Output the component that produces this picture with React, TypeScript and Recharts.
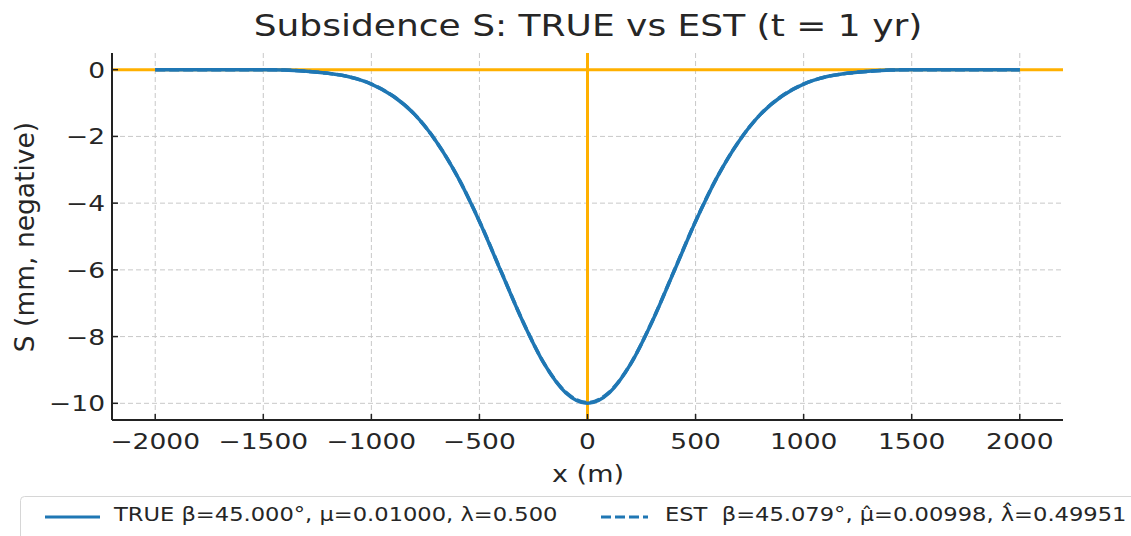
import React from "react";
import {
  LineChart,
  Line,
  XAxis,
  YAxis,
  CartesianGrid,
  ReferenceLine,
} from "recharts";

// horizontal distance from the centre of the trough (m)
const xPositions = [
  -2000, -1900, -1800, -1700, -1600, -1500, -1400, -1300, -1200, -1100, -1000,
  -900, -800, -700, -600, -500, -400, -300, -200, -100, 0, 100, 200, 300, 400,
  500, 600, 700, 800, 900, 1000, 1100, 1200, 1300, 1400, 1500, 1600, 1700,
  1800, 1900, 2000,
];

// true subsidence (mm)
const sTrue = [
  0, 0, 0, 0, 0, 0, -0.01, -0.05, -0.11, -0.22, -0.43, -0.79, -1.34, -2.15,
  -3.22, -4.55, -6.05, -7.54, -8.82, -9.69, -10.0, -9.69, -8.82, -7.54, -6.05,
  -4.55, -3.22, -2.15, -1.34, -0.79, -0.43, -0.22, -0.11, -0.05, -0.01, 0, 0,
  0, 0, 0, 0,
];

// estimated subsidence (mm)
const sEst = [
  0, 0, 0, 0, 0, 0, -0.01, -0.05, -0.11, -0.22, -0.43, -0.79, -1.34, -2.15,
  -3.22, -4.54, -6.04, -7.53, -8.81, -9.67, -9.98, -9.67, -8.81, -7.53, -6.04,
  -4.54, -3.22, -2.15, -1.34, -0.79, -0.43, -0.22, -0.11, -0.05, -0.01, 0, 0,
  0, 0, 0, 0,
];

const xTicks = [-2000, -1500, -1000, -500, 0, 500, 1000, 1500, 2000];
const yTicks = [0, -2, -4, -6, -8, -10];

const titleText = "Subsidence S: TRUE vs EST (t = 1 yr)";
const trueLabel = "TRUE \u03B2=45.000\u00B0, \u03BC=0.01000, \u03BB=0.500";
const estLabel =
  "EST  \u03B2=45.079\u00B0, \u03BC\u0302=0.00998, \u03BB\u0302=0.49951";

const data = xPositions.map((x, i) => ({ x, trueS: sTrue[i], estS: sEst[i] }));

const FONT = "'DejaVu Sans', sans-serif";
const TEXT = "#262626";
const BLUE = "#1f77b4";
const ORANGE = "#ffb000";
const SQUASH = 0.83;

const PLOT_LEFT = 112;
const PLOT_BOTTOM = 420;

const minus = (v: number) => String(v).replace("-", "\u2212");

// horizontal text, slightly flattened
const Flat = ({ x, y, size, anchor = "middle", children }: any) => (
  <text
    transform={`translate(${x},${y}) scale(1,${SQUASH})`}
    textAnchor={anchor}
    fontSize={size}
    fontFamily={FONT}
    fill={TEXT}
    style={{ whiteSpace: "pre" }}
  >
    {children}
  </text>
);

const XTick = (props: any) => {
  const { x, payload } = props;
  return (
    <g>
      <line x1={x} x2={x} y1={PLOT_BOTTOM} y2={PLOT_BOTTOM - 6} stroke="#222" strokeWidth={1.5} />
      <Flat x={x} y={PLOT_BOTTOM + 29} size={26.5}>
        {minus(payload.value)}
      </Flat>
    </g>
  );
};

const YTick = (props: any) => {
  const { y, payload } = props;
  return (
    <g>
      <line x1={PLOT_LEFT} x2={PLOT_LEFT + 6} y1={y} y2={y} stroke="#222" strokeWidth={1.5} />
      <Flat x={PLOT_LEFT - 7} y={y + 8} size={26.5} anchor="end">
        {minus(payload.value)}
      </Flat>
    </g>
  );
};

const XLabel = () => (
  <Flat x={588} y={482} size={27}>
    x (m)
  </Flat>
);

const YLabel = () => (
  <text
    transform="translate(34,237) rotate(-90)"
    textAnchor="middle"
    fontSize={26.5}
    fontFamily={FONT}
    fill={TEXT}
  >
    S (mm, negative)
  </text>
);

const Overlay = () => (
  <svg
    width={1131}
    height={536}
    style={{ position: "absolute", left: 0, top: 0, pointerEvents: "none" }}
  >
    <Flat x={588} y={36} size={36}>
      {titleText}
    </Flat>
    <rect x={20.5} y={496.5} width={1130} height={60} rx={4} fill="#fff" stroke="#d6d6d6" />
    <line x1={45} x2={100} y1={517} y2={517} stroke={BLUE} strokeWidth={3} />
    <Flat x={114} y={521} size={22.6} anchor="start">
      {trueLabel}
    </Flat>
    <line x1={601} x2={648} y1={517} y2={517} stroke={BLUE} strokeWidth={3} strokeDasharray="10 4" />
    <Flat x={665} y={521} size={22.6} anchor="start">
      {estLabel}
    </Flat>
  </svg>
);

export default function App() {
  return (
    <div
      style={{
        position: "absolute",
        left: 0,
        top: 0,
        width: 1131,
        height: 536,
        background: "#fff",
        overflow: "hidden",
      }}
    >
      <LineChart
        width={1131}
        height={536}
        data={data}
        margin={{ top: 53, right: 68, bottom: 76, left: 0 }}
      >
        <CartesianGrid
          stroke="#c8c8c8"
          strokeDasharray="5 3"
          horizontalValues={yTicks}
          verticalValues={xTicks}
        />
        <XAxis
          dataKey="x"
          type="number"
          domain={[-2200, 2200]}
          ticks={xTicks}
          height={40}
          axisLine={{ stroke: "#222", strokeWidth: 2 }}
          tickLine={false}
          tickSize={0}
          tick={<XTick />}
          label={<XLabel />}
        />
        <YAxis
          type="number"
          domain={[-10.5, 0.5]}
          ticks={yTicks}
          width={112}
          axisLine={{ stroke: "#222", strokeWidth: 2 }}
          tickLine={false}
          tickSize={0}
          tick={<YTick />}
          label={<YLabel />}
        />
        <ReferenceLine y={0} stroke={ORANGE} strokeWidth={3} />
        <ReferenceLine x={0} stroke={ORANGE} strokeWidth={3} />
        <Line
          dataKey="trueS"
          type="monotone"
          stroke={BLUE}
          strokeWidth={3.5}
          dot={false}
          isAnimationActive={false}
        />
        <Line
          dataKey="estS"
          type="monotone"
          stroke={BLUE}
          strokeWidth={3.5}
          strokeDasharray="10 4"
          dot={false}
          isAnimationActive={false}
        />
      </LineChart>
      <Overlay />
    </div>
  );
}
